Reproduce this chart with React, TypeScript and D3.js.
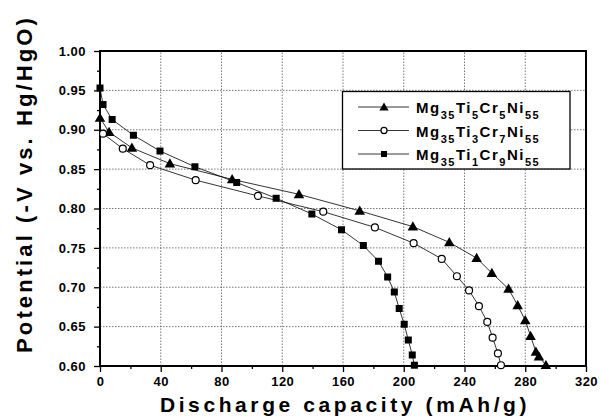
import React, { useEffect, useRef } from "react";
import * as d3 from "d3";

// Mg35Ti5Cr5Ni55 (triangles)
const triCap = [0, 6, 21, 46, 87, 131, 171, 206, 230, 248, 258, 269, 275, 280, 283.5, 287, 289, 293.6];
const triPot = [0.915, 0.897, 0.877, 0.857, 0.837, 0.818, 0.797, 0.777, 0.757, 0.737, 0.718, 0.698, 0.677, 0.658, 0.638, 0.618, 0.612, 0.601];
// Mg35Ti3Cr7Ni55 (open circles)
const cirCap = [2, 15, 33, 63, 104, 147, 181, 206.5, 225, 235, 243, 249.5, 255, 258.5, 262, 264];
const cirPot = [0.895, 0.876, 0.855, 0.836, 0.816, 0.796, 0.776, 0.756, 0.736, 0.714, 0.696, 0.676, 0.656, 0.636, 0.616, 0.601];
// Mg35Ti1Cr9Ni55 (squares)
const sqCap = [0, 2, 8, 22, 39.5, 62.5, 90, 116, 139.5, 159, 173.4, 183.4, 189.4, 193.8, 197, 200.3, 203, 205.6, 207];
const sqPot = [0.953, 0.932, 0.913, 0.893, 0.873, 0.853, 0.833, 0.813, 0.793, 0.773, 0.753, 0.733, 0.713, 0.694, 0.673, 0.653, 0.633, 0.614, 0.601];

const xTicks = [0, 40, 80, 120, 160, 200, 240, 280, 320];
const yTicks = [0.6, 0.65, 0.7, 0.75, 0.8, 0.85, 0.9, 0.95, 1.0];

const series = [
  { name: ["Mg", "35", "Ti", "5", "Cr", "5", "Ni", "55"], xs: triCap, ys: triPot, marker: "tri" },
  { name: ["Mg", "35", "Ti", "3", "Cr", "7", "Ni", "55"], xs: cirCap, ys: cirPot, marker: "circle" },
  { name: ["Mg", "35", "Ti", "1", "Cr", "9", "Ni", "55"], xs: sqCap, ys: sqPot, marker: "square" },
];

const W = 601, H = 417;
const margin = { left: 100, right: 15, top: 51, bottom: 51 };
const FONT = "'Liberation Sans', Arial, sans-serif";

function drawMarker(g, type, x, y, size) {
  if (type === "tri") {
    g.append("path")
      .attr("d", d3.symbol().type(d3.symbolTriangle).size(size * size * 0.75)())
      .attr("transform", `translate(${x},${y + 0.8})`)
      .attr("fill", "#000");
  } else if (type === "circle") {
    g.append("circle").attr("cx", x).attr("cy", y).attr("r", size / 2.3)
      .attr("fill", "#fff").attr("stroke", "#000").attr("stroke-width", 1.2);
  } else {
    g.append("rect").attr("x", x - size / 2 + 0.5).attr("y", y - size / 2 + 0.5)
      .attr("width", size - 1).attr("height", size - 1).attr("fill", "#000");
  }
}

export default function App() {
  const ref = useRef<SVGSVGElement>(null);

  useEffect(() => {
    const svg = d3.select(ref.current);
    svg.selectAll("*").remove();

    const x = d3.scaleLinear().domain([0, 320]).range([margin.left, W - margin.right]);
    const y = d3.scaleLinear().domain([0.6, 1.0]).range([H - margin.bottom, margin.top]);

    // grid
    const grid = svg.append("g").attr("stroke", "#555").attr("stroke-width", 0.8).attr("stroke-dasharray", "1.5,1.5");
    xTicks.slice(1, -1).forEach((t) => {
      grid.append("line").attr("x1", x(t)).attr("x2", x(t)).attr("y1", y(0.6)).attr("y2", y(1.0));
    });
    yTicks.slice(1, -1).forEach((t) => {
      grid.append("line").attr("x1", x(0)).attr("x2", x(320)).attr("y1", y(t)).attr("y2", y(t));
    });

    // axes
    const xAxis = svg.append("g").attr("transform", `translate(0,${y(0.6)})`)
      .call(d3.axisBottom(x).tickValues(xTicks).tickFormat(d3.format("d")).tickSize(6).tickPadding(5));
    const xMinor = svg.append("g").attr("transform", `translate(0,${y(0.6)})`)
      .call(d3.axisBottom(x).tickValues(d3.range(20, 320, 40)).tickFormat(() => "").tickSize(3));
    const yAxis = svg.append("g").attr("transform", `translate(${x(0)},0)`)
      .call(d3.axisLeft(y).tickValues(yTicks).tickFormat(d3.format(".2f")).tickSize(6).tickPadding(8));
    const yMinor = svg.append("g").attr("transform", `translate(${x(0)},0)`)
      .call(d3.axisLeft(y).tickValues(d3.range(0.625, 1.0, 0.05)).tickFormat(() => "").tickSize(3));
    [xAxis, xMinor, yAxis, yMinor].forEach((a) => {
      a.select(".domain").remove();
      a.selectAll("line").attr("stroke", "#000").attr("stroke-width", 1.3);
      a.selectAll("text").attr("font-family", FONT).attr("font-weight", "bold")
        .attr("font-size", 13).attr("fill", "#000").attr("letter-spacing", 0.5);
    });

    svg.append("rect").attr("x", x(0)).attr("y", y(1.0))
      .attr("width", x(320) - x(0)).attr("height", y(0.6) - y(1.0))
      .attr("fill", "none").attr("stroke", "#000").attr("stroke-width", 2);

    const line = d3.line<[number, number]>().x((d) => x(d[0])).y((d) => y(d[1]));
    series.forEach((s) => {
      const pts = s.xs.map((v, i) => [v, s.ys[i]] as [number, number]);
      svg.append("path").attr("d", line(pts)).attr("fill", "none")
        .attr("stroke", "#000").attr("stroke-width", 0.8);
      const g = svg.append("g");
      pts.forEach((p) => drawMarker(g, s.marker, x(p[0]), y(p[1]), 8));
    });

    // legend
    const lg = svg.append("g");
    lg.append("rect").attr("x", 342.5).attr("y", 91.5).attr("width", 227.5).attr("height", 77.5)
      .attr("fill", "#fff").attr("stroke", "#000").attr("stroke-width", 1.3);
    series.forEach((s, i) => {
      const ly = 107 + i * 23.5;
      lg.append("line").attr("x1", 358).attr("x2", 409).attr("y1", ly).attr("y2", ly)
        .attr("stroke", "#000").attr("stroke-width", 0.8);
      drawMarker(lg, s.marker, 384, ly, 7);
      const t = lg.append("text").attr("x", 416).attr("y", ly + 6)
        .attr("font-family", FONT).attr("font-weight", "bold").attr("font-size", 15)
        .attr("letter-spacing", 1.5).attr("fill", "#000");
      s.name.forEach((part, k) => {
        if (k % 2 === 0) {
          t.append("tspan").attr("dy", k === 0 ? 0 : -6).attr("font-size", 15).text(part);
        } else {
          t.append("tspan").attr("dy", 6).attr("font-size", 11).text(part);
        }
      });
    });

    // axis titles
    svg.append("text").attr("x", 345).attr("y", 412)
      .attr("text-anchor", "middle").attr("font-family", FONT).attr("font-weight", "bold")
      .attr("font-size", 21).attr("letter-spacing", 3.6).attr("fill", "#000")
      .text("Discharge capacity (mAh/g)");
    svg.append("text").attr("transform", `translate(32,${184}) rotate(-90)`)
      .attr("text-anchor", "middle").attr("font-family", FONT).attr("font-weight", "bold")
      .attr("font-size", 22).attr("letter-spacing", 3.1).attr("fill", "#000")
      .text("Potential (-V vs. Hg/HgO)");
  }, []);

  return (
    <svg ref={ref} width={W} height={H}
      style={{ position: "absolute", left: 0, top: 0, background: "#fff" }} />
  );
}
